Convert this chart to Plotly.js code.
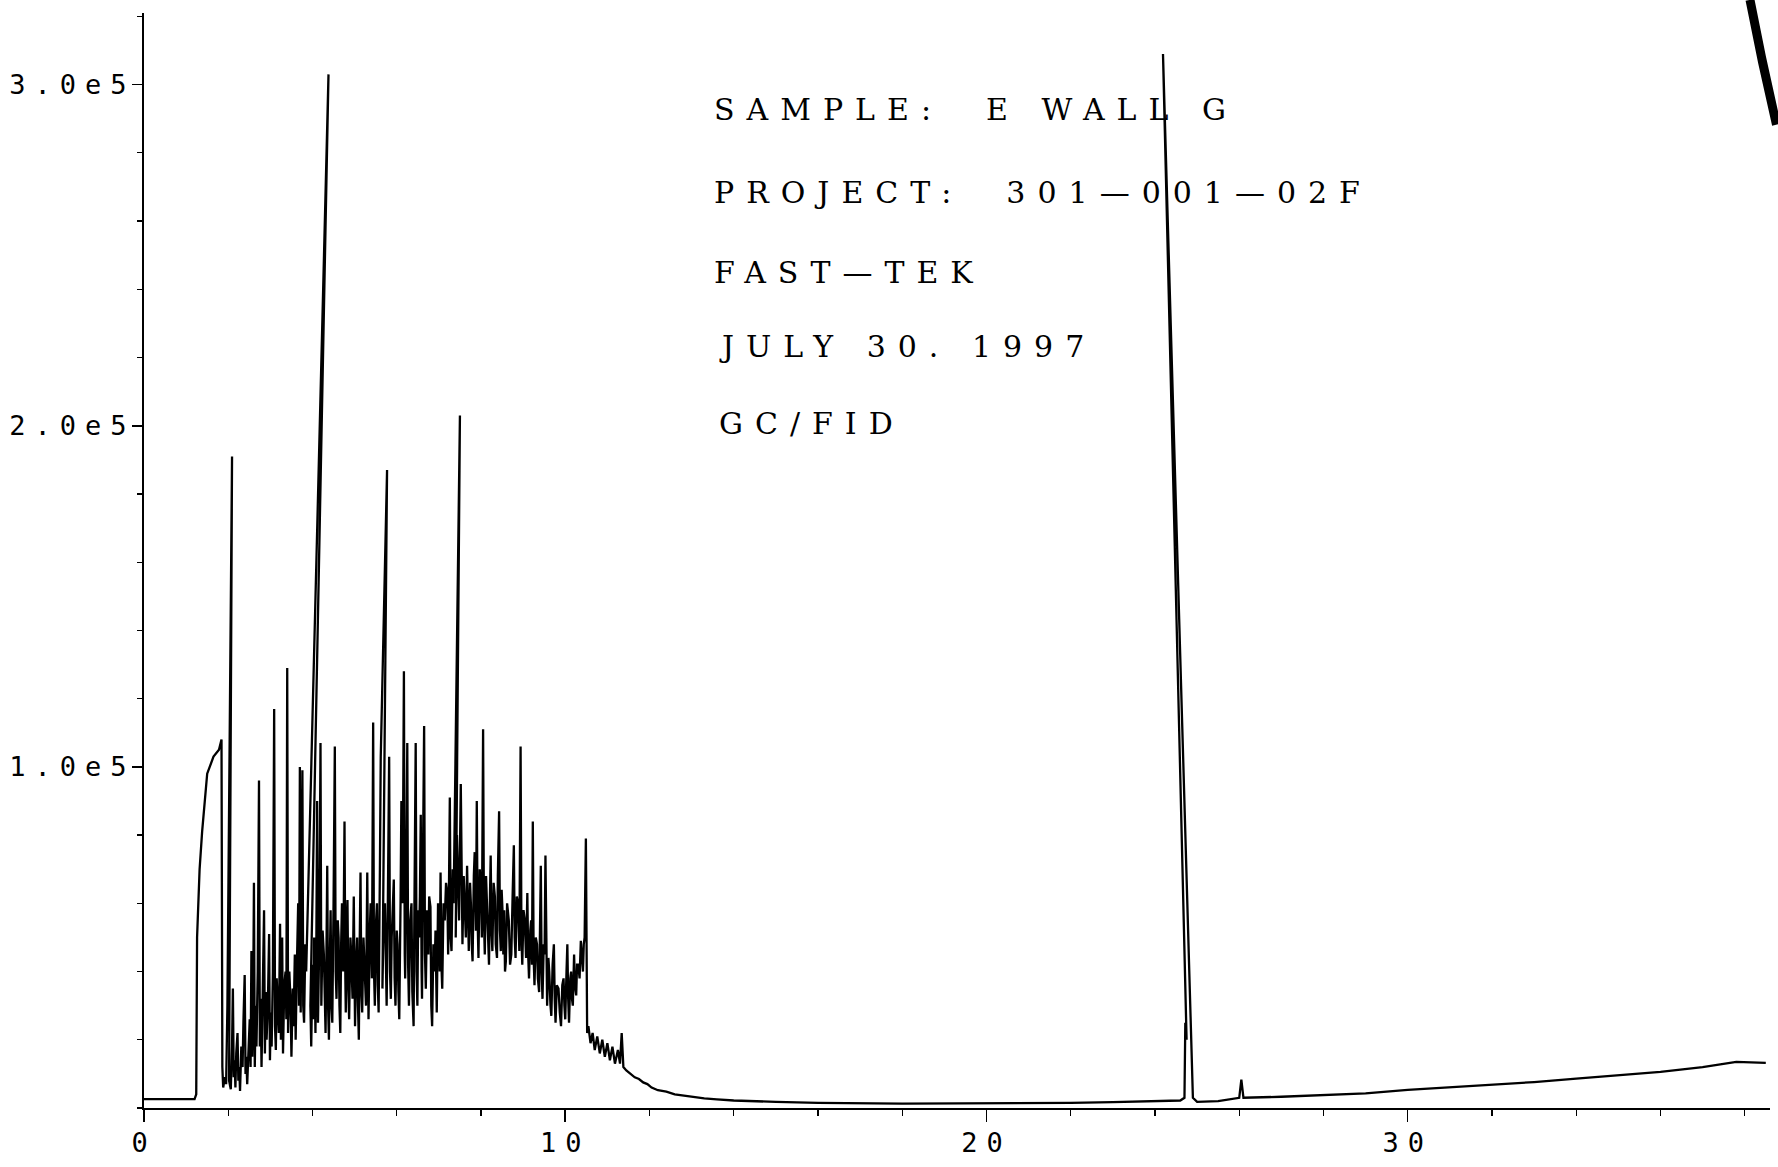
<!DOCTYPE html>
<html>
<head>
<meta charset="utf-8">
<script src="https://cdn.plot.ly/plotly-3.0.1.min.js"></script>
<style>
  html, body { margin: 0; padding: 0; background: #ffffff; }
  #chart { width: 1778px; height: 1167px; }
  .xtick text, .ytick text { letter-spacing: 9px; }
  .annotation-text { letter-spacing: 12px; }
</style>
</head>
<body>
<div id="chart"></div>
<script>
// Trace, as [retention time (min), FID response] in drawing order
const solventFront = [
  [0.00, 2600], [1.20, 2600], [1.24, 4000], [1.26, 50000], [1.32, 70000], [1.38, 81000], [1.50, 98000],
  [1.65, 103000], [1.78, 105000], [1.84, 108000], [1.86, 12000], [1.88, 6000], [1.92, 9000], [1.95, 7000],
  [1.98, 30000], [2.09, 191000], [2.02, 8000], [2.06, 5500]
];
const forestEarly = [
  [2.09, 18000], [2.11, 35000], [2.13, 9000], [2.15, 14000], [2.17, 6000], [2.19, 16000], [2.22, 22000],
  [2.24, 8000], [2.26, 12000], [2.28, 5000], [2.31, 18000], [2.34, 12000], [2.36, 25000], [2.39, 39000],
  [2.41, 10000], [2.43, 15000], [2.45, 7000], [2.48, 20000], [2.51, 26000], [2.53, 12000], [2.55, 46000],
  [2.57, 15000], [2.59, 28000], [2.61, 66000], [2.63, 12000], [2.65, 30000], [2.67, 18000], [2.70, 40000],
  [2.73, 96000], [2.75, 18000], [2.77, 32000], [2.79, 12000], [2.82, 36000], [2.85, 58000], [2.87, 16000],
  [2.89, 34000], [2.91, 20000], [2.94, 30000], [2.97, 51000], [2.99, 14000], [3.01, 28000], [3.03, 18000],
  [3.06, 40000], [3.09, 117000], [3.11, 24000], [3.13, 17000], [3.15, 38000], [3.18, 30000], [3.20, 22000],
  [3.23, 54000], [3.25, 20000], [3.28, 50000], [3.30, 16000], [3.33, 36000], [3.36, 40000], [3.38, 26000],
  [3.40, 129000], [3.42, 22000], [3.45, 40000], [3.48, 31000], [3.50, 15000], [3.53, 35000], [3.55, 24000],
  [3.58, 45000], [3.60, 20000], [3.63, 42000], [3.66, 60000], [3.68, 30000], [3.70, 100000], [3.72, 28000],
  [3.74, 55000], [3.76, 99000], [3.78, 30000], [3.80, 25000], [3.83, 48000], [3.85, 40000], [4.38, 303000],
  [3.95, 30000], [3.97, 18000], [4.00, 42000], [4.02, 26000], [4.04, 50000], [4.07, 22000], [4.09, 45000],
  [4.11, 90000], [4.13, 25000], [4.16, 48000], [4.19, 107000], [4.21, 30000], [4.24, 52000], [4.27, 45000],
  [4.29, 28000], [4.31, 22000], [4.33, 44000], [4.35, 71000], [4.37, 30000], [4.39, 20000], [4.41, 42000],
  [4.43, 58000], [4.45, 30000], [4.47, 25000], [4.50, 60000], [4.53, 106000], [4.55, 40000], [4.57, 32000],
  [4.60, 55000], [4.62, 50000], [4.64, 30000], [4.66, 22000], [4.68, 48000], [4.70, 60000], [4.73, 40000],
  [4.76, 84000], [4.78, 38000], [4.79, 28000], [4.81, 52000], [4.83, 61000], [4.85, 35000], [4.87, 26000],
  [4.90, 50000], [4.92, 45000], [4.95, 32000], [4.98, 62000], [5.00, 36000], [5.01, 24000]
];
const forestMiddle = [
  [5.04, 44000], [5.06, 50000], [5.08, 30000], [5.10, 20000], [5.12, 48000], [5.14, 69000], [5.16, 34000],
  [5.18, 28000], [5.21, 50000], [5.24, 40000], [5.27, 30000], [5.30, 69000], [5.32, 36000], [5.33, 26000],
  [5.36, 52000], [5.38, 60000], [5.41, 38000], [5.44, 113000], [5.46, 40000], [5.48, 30000], [5.51, 55000],
  [5.53, 60000], [5.55, 36000], [5.57, 28000], [5.60, 70000], [5.62, 103000], [5.77, 187000], [5.66, 35000],
  [5.69, 55000], [5.72, 60000], [5.74, 38000], [5.76, 30000], [5.79, 62000], [5.82, 103000], [5.84, 40000],
  [5.86, 32000], [5.88, 50000], [5.90, 55000], [5.93, 67000], [5.95, 38000], [5.97, 30000], [6.00, 52000],
  [6.02, 48000], [6.04, 34000], [6.06, 26000], [6.09, 60000], [6.11, 90000], [6.14, 60000], [6.17, 128000],
  [6.19, 45000], [6.20, 38000], [6.23, 70000], [6.25, 107000], [6.27, 42000], [6.29, 30000], [6.32, 55000],
  [6.35, 60000], [6.37, 34000], [6.40, 24000], [6.42, 60000], [6.45, 107000], [6.47, 40000], [6.49, 30000],
  [6.51, 58000], [6.53, 50000], [6.55, 62000], [6.57, 86000], [6.59, 40000], [6.60, 32000], [6.62, 70000],
  [6.65, 112000], [6.67, 45000], [6.69, 35000], [6.72, 58000], [6.75, 45000], [6.77, 62000], [6.80, 59000],
  [6.82, 30000], [6.84, 24000], [6.87, 48000], [6.90, 40000], [6.92, 52000], [6.95, 28000], [6.98, 60000],
  [7.00, 55000], [7.02, 40000], [7.04, 69000], [7.06, 42000], [7.08, 35000], [7.11, 60000], [7.14, 55000],
  [7.17, 66000], [7.20, 63000], [7.22, 45000], [7.23, 52000], [7.26, 91000], [7.28, 50000], [7.30, 46000],
  [7.33, 70000], [7.35, 60000], [7.50, 203000], [7.40, 50000], [7.43, 80000], [7.45, 70000], [7.48, 55000],
  [7.52, 95000], [7.54, 56000], [7.56, 48000], [7.59, 68000], [7.62, 60000], [7.64, 50000], [7.67, 71000],
  [7.69, 52000], [7.71, 46000], [7.74, 66000], [7.76, 60000], [7.78, 48000], [7.80, 43000], [7.83, 68000],
  [7.85, 75000], [7.88, 52000], [7.90, 90000], [7.92, 55000], [7.94, 44000], [7.97, 70000], [8.00, 65000]
];
const forestLate = [
  [8.02, 50000], [8.05, 111000], [8.07, 55000], [8.09, 45000], [8.12, 68000], [8.15, 58000], [8.17, 50000],
  [8.19, 42000], [8.21, 60000], [8.23, 74000], [8.25, 52000], [8.27, 46000], [8.30, 66000], [8.33, 62000],
  [8.35, 48000], [8.38, 44000], [8.40, 68000], [8.43, 87000], [8.45, 52000], [8.47, 46000], [8.49, 64000],
  [8.51, 58000], [8.53, 45000], [8.55, 58000], [8.57, 40000], [8.59, 43000], [8.62, 60000], [8.66, 55000],
  [8.69, 42000], [8.72, 45000], [8.75, 62000], [8.78, 77000], [8.80, 50000], [8.82, 44000], [8.85, 62000],
  [8.88, 60000], [8.91, 46000], [8.94, 106000], [8.96, 50000], [8.98, 42000], [9.01, 58000], [9.04, 55000],
  [9.07, 44000], [9.10, 63000], [9.12, 45000], [9.14, 38000], [9.17, 52000], [9.19, 55000], [9.21, 42000],
  [9.23, 84000], [9.25, 44000], [9.27, 36000], [9.30, 50000], [9.33, 48000], [9.35, 38000], [9.38, 34000],
  [9.40, 52000], [9.42, 71000], [9.44, 40000], [9.46, 32000], [9.49, 48000], [9.51, 45000], [9.53, 74000],
  [9.55, 38000], [9.57, 30000], [9.60, 44000], [9.62, 40000], [9.65, 30000], [9.67, 27000], [9.70, 42000],
  [9.73, 48000], [9.75, 32000], [9.77, 25000], [9.80, 36000], [9.84, 35000], [9.87, 28000], [9.90, 24000],
  [9.93, 36000], [9.96, 38000], [9.98, 30000], [10.00, 26000], [10.03, 40000], [10.05, 48000], [10.07, 32000],
  [10.09, 25000], [10.12, 38000], [10.14, 40000], [10.16, 32000], [10.18, 30000], [10.21, 45000], [10.23, 36000],
  [10.26, 33000], [10.28, 42000], [10.31, 42000], [10.34, 38000], [10.37, 49000], [10.40, 42000], [10.42, 40000],
  [10.44, 48000], [10.46, 50000], [10.49, 79000]
];
const tailOff = [
  [10.52, 22000], [10.55, 24000], [10.60, 19000], [10.65, 22000], [10.70, 17000], [10.76, 21000], [10.82, 16000],
  [10.88, 20000], [10.94, 15000], [11.00, 19000], [11.06, 14000], [11.12, 18000], [11.18, 13000], [11.25, 17000],
  [11.30, 13000], [11.34, 22000], [11.38, 12000], [11.45, 11000], [11.55, 10000], [11.65, 9000], [11.75, 8500],
  [11.85, 7500], [11.95, 7000], [12.05, 6000], [12.20, 5200], [12.40, 4800], [12.60, 4000], [12.80, 3600],
  [13.00, 3200], [13.30, 2800], [13.60, 2500], [14.00, 2200], [15.00, 1800], [16.00, 1500], [18.00, 1300],
  [20.00, 1300], [22.00, 1500], [23.00, 1700], [23.80, 2000], [24.60, 2200]
];
const lateRegion = [
  [24.70, 3000], [24.72, 25000], [24.75, 20000], [24.19, 309000], [24.90, 3000], [25.00, 1800], [25.50, 2000],
  [26.00, 3000], [26.05, 8300], [26.10, 3000], [27.00, 3300], [28.00, 3700], [29.00, 4300], [30.00, 5300],
  [31.00, 6000], [32.00, 6700], [33.00, 7600], [34.00, 8600], [35.00, 9600], [36.00, 10600], [37.00, 12000],
  [37.80, 13500], [38.50, 13200]
];

// Axis ticks
const xTickVals = [0, 10, 20, 30];
const yTickVals = [100000, 200000, 300000];
const yTickText = ["1.0e5", "2.0e5", "3.0e5"];

// Header text block (left edge in minutes, centre in response units)
const headerLines = ["SAMPLE:  E WALL G", "PROJECT:  301—001—02F", "FAST—TEK", "JULY 30. 1997", "GC/FID"];
const headerX = [13.48, 13.48, 13.48, 13.6, 13.6];
const headerY = [292700, 268400, 244900, 223200, 200600];

const allPoints = [].concat(solventFront, forestEarly, forestMiddle, forestLate, tailOff, lateRegion);
const retentionTime = allPoints.map(p => p[0]);
const detectorSignal = allPoints.map(p => p[1]);

const tickFont = { family: "DejaVu Sans Mono, monospace", size: 27, color: "#000" };
const textFont = { family: "DejaVu Serif, serif", size: 30, color: "#000" };

const trace = {
  x: retentionTime,
  y: detectorSignal,
  type: "scatter",
  mode: "lines",
  line: { color: "#000000", width: 2.3 },
  hoverinfo: "skip",
  showlegend: false
};

const annotations = headerLines.map((t, i) => ({
  text: t, x: headerX[i], y: headerY[i], xref: "x", yref: "y",
  xanchor: "left", yanchor: "middle", showarrow: false, font: textFont
}));

const layout = {
  width: 1778,
  height: 1167,
  margin: { l: 144, r: 8, t: 13, b: 59 },
  paper_bgcolor: "#ffffff",
  plot_bgcolor: "#ffffff",
  showlegend: false,
  xaxis: {
    range: [0, 38.6],
    showgrid: false, zeroline: false,
    showline: true, linecolor: "#000", linewidth: 2,
    tickmode: "array", tickvals: xTickVals,
    ticks: "outside", ticklen: 12, tickwidth: 1.5, tickcolor: "#000",
    minor: { tickmode: "linear", tick0: 0, dtick: 2, ticks: "outside", ticklen: 6, tickwidth: 1.2, tickcolor: "#000" },
    tickfont: tickFont,
    ticklabelstandoff: -2
  },
  yaxis: {
    range: [0, 321000],
    showgrid: false, zeroline: false,
    showline: true, linecolor: "#000", linewidth: 2,
    tickmode: "array", tickvals: yTickVals, ticktext: yTickText,
    ticks: "outside", ticklen: 10, tickwidth: 1.5, tickcolor: "#000",
    minor: { tickmode: "linear", tick0: 0, dtick: 20000, ticks: "outside", ticklen: 5, tickwidth: 1.2, tickcolor: "#000" },
    tickfont: tickFont,
    ticklabelstandoff: -9
  },
  annotations: annotations,
  shapes: [
    { type: "path", xref: "paper", yref: "paper",
      path: "M 0.9877 1.012 Q 0.995 0.955 1.004 0.898",
      line: { color: "#000", width: 9 } }
  ]
};

Plotly.newPlot("chart", [trace], layout, { displayModeBar: false, staticPlot: true });
</script>
</body>
</html>
